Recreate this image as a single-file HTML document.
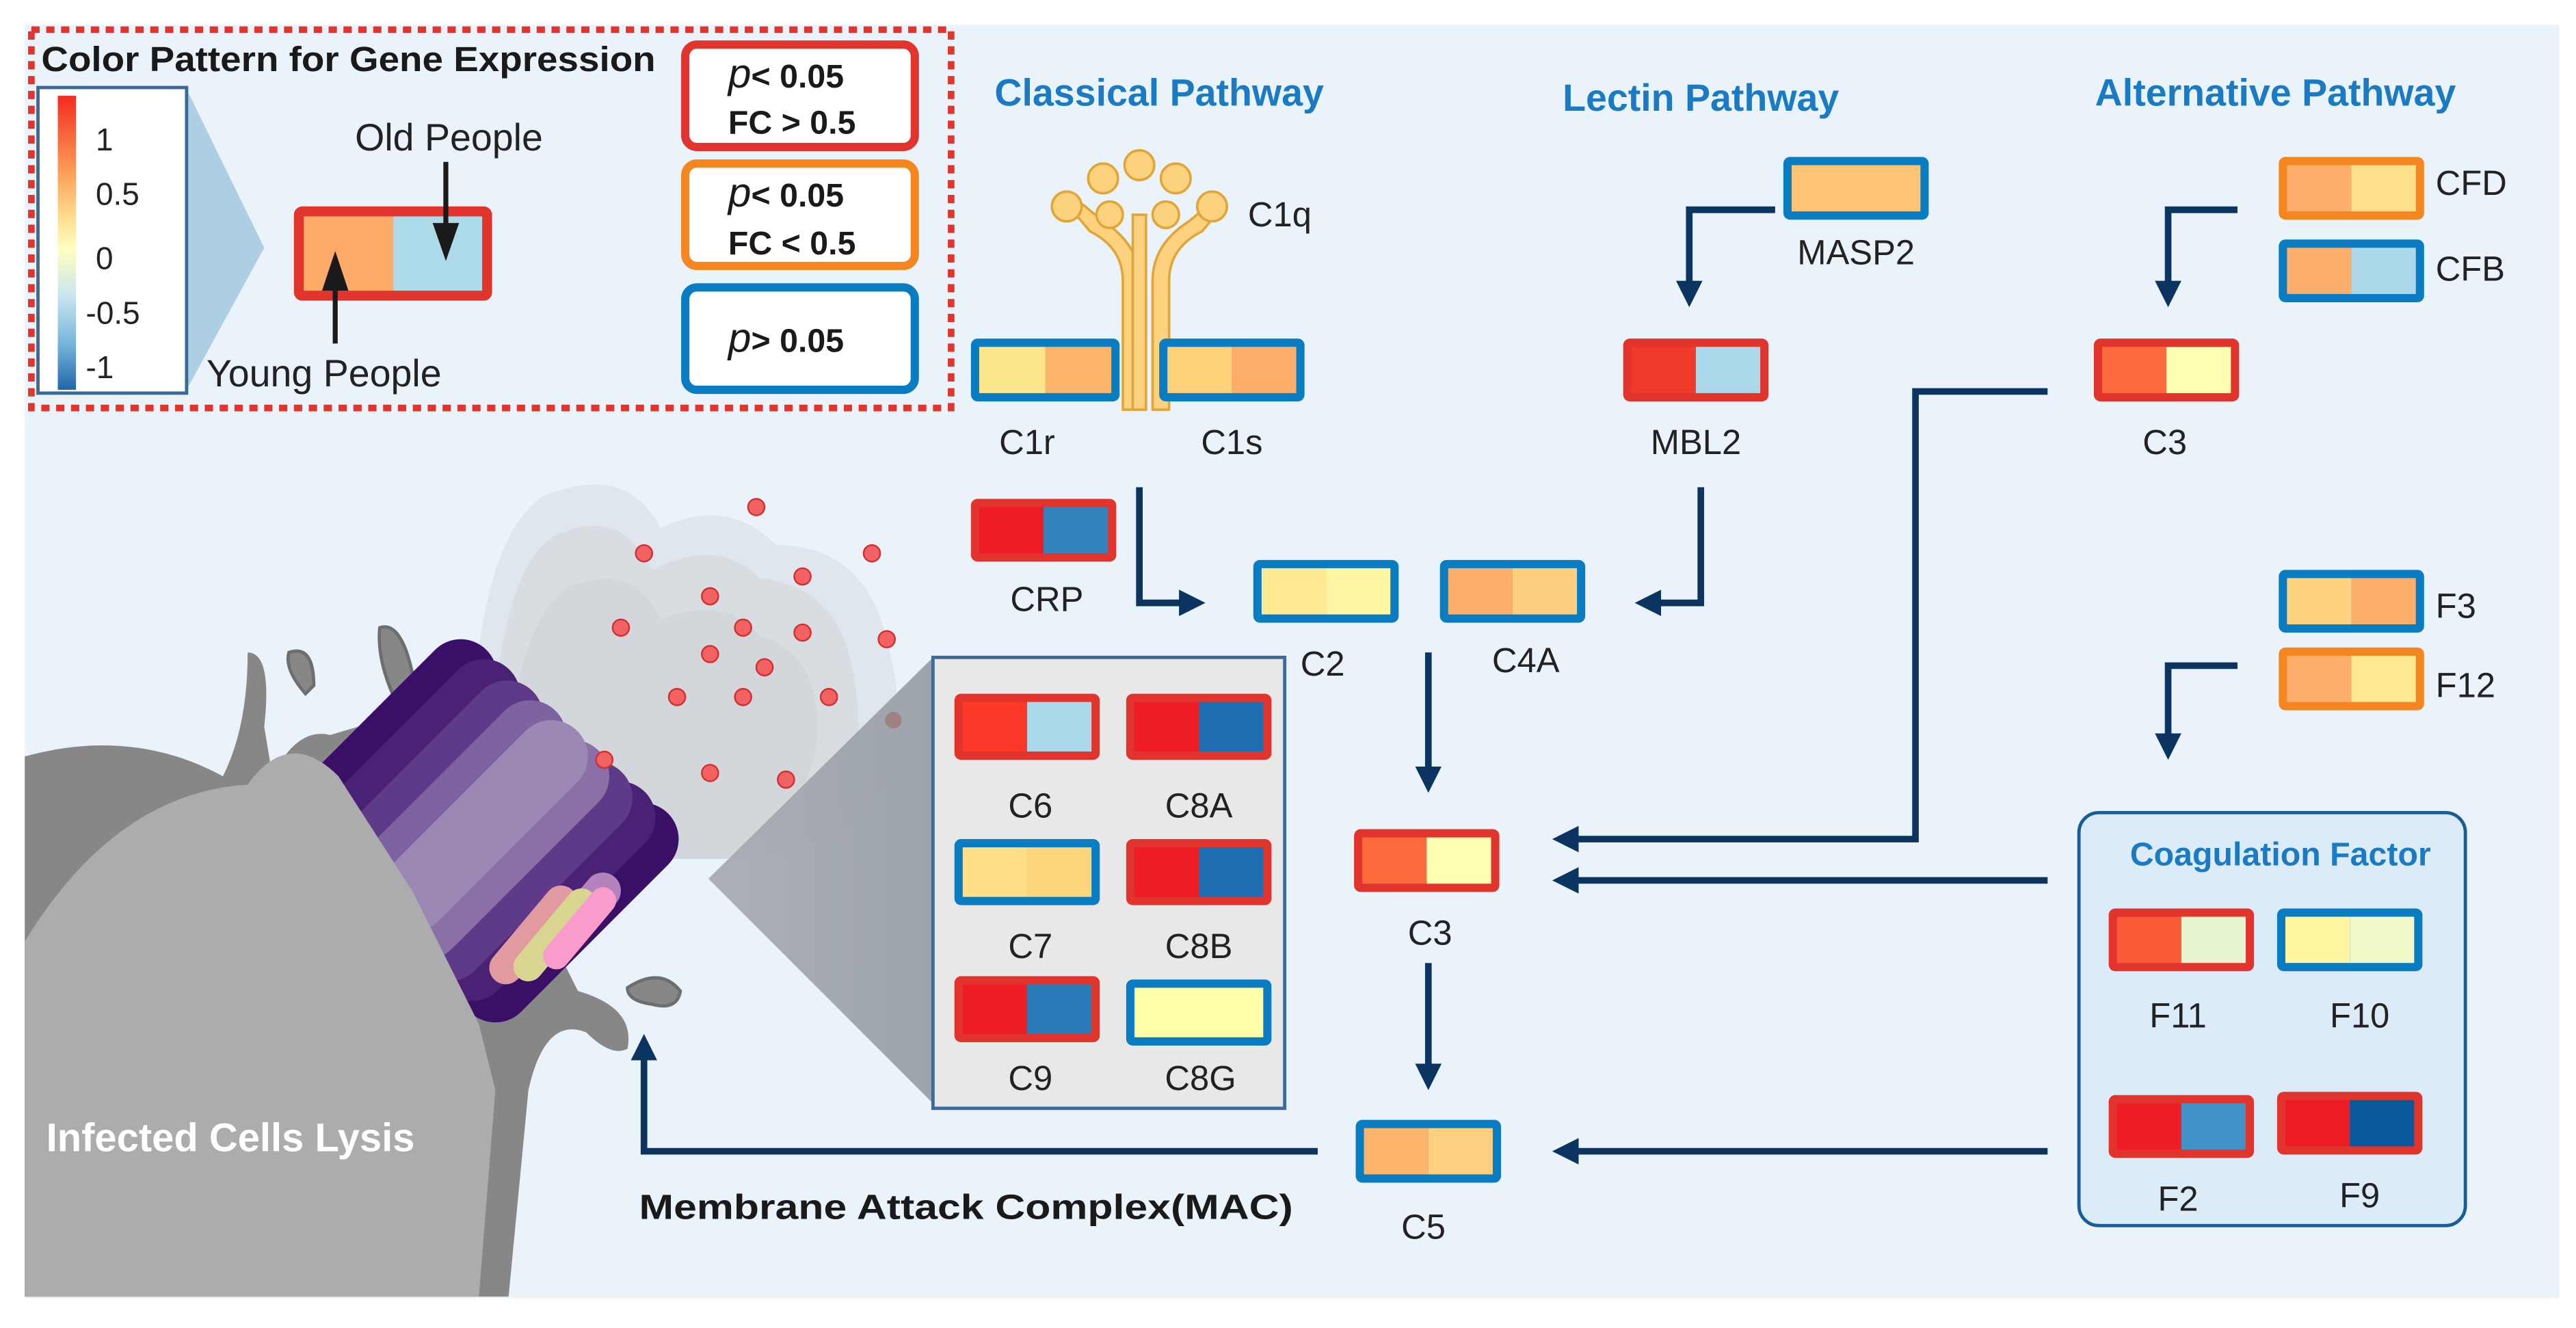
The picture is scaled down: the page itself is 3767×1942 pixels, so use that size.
<!DOCTYPE html>
<html><head><meta charset="utf-8"><style>
html,body{margin:0;padding:0;background:#fff}
svg{display:block}
text{font-family:"Liberation Sans",sans-serif}
.l{font-size:21px;fill:#222;text-anchor:middle}
.t{font-size:23px;font-weight:bold;fill:#1a7bc4;text-anchor:middle}
</style></head><body>
<svg width="3767" height="1942" viewBox="0 0 1560 804" preserveAspectRatio="none" xmlns="http://www.w3.org/2000/svg">
<defs>
<linearGradient id="cb" x1="0" y1="0" x2="0" y2="1">
<stop offset="0" stop-color="#f52a1f"/><stop offset="0.25" stop-color="#fd9a55"/><stop offset="0.4" stop-color="#fdd88a"/><stop offset="0.52" stop-color="#ffffbf"/><stop offset="0.68" stop-color="#c9e6f0"/><stop offset="0.85" stop-color="#72b3d8"/><stop offset="1" stop-color="#2166ac"/>
</linearGradient>
<linearGradient id="gt" x1="0" y1="0" x2="1" y2="0"><stop offset="0" stop-color="#a9adb3"/><stop offset="1" stop-color="#9aa0a8"/></linearGradient>
<marker id="ah" markerWidth="4" markerHeight="4" refX="2" refY="2" orient="auto" markerUnits="strokeWidth"><path d="M0,0 L4,2 L0,4 Z" fill="#0b3560"/></marker>
</defs>
<rect x="0" y="0" width="1560" height="804" fill="#fff"/>
<rect x="15" y="15" width="1535" height="771" fill="#eaf2fa"/>

<!-- legend -->
<rect x="19" y="18" width="557" height="229" fill="none" stroke="#e0342c" stroke-width="4" stroke-dasharray="5,4"/>
<text x="25" y="43" style="font-size:21px;font-weight:bold;fill:#1a1a1a" textLength="372" lengthAdjust="spacingAndGlyphs">Color Pattern for Gene Expression</text>
<polygon points="113,54 113,236 160,150" fill="#aecfe3"/>
<rect x="23" y="53" width="90" height="185" fill="#fff" stroke="#3c6896" stroke-width="2"/>
<rect x="35" y="58" width="11" height="178" fill="url(#cb)"/>
<g style="font-size:19px;fill:#222">
<text x="58" y="91">1</text><text x="58" y="124">0.5</text><text x="58" y="163">0</text><text x="52" y="196">-0.5</text><text x="52" y="229">-1</text></g>
<rect x="178" y="125" width="120" height="57" rx="5" fill="#e0342c"/>
<rect x="184" y="131" width="54" height="45" fill="#fdaa68"/><rect x="238" y="131" width="54" height="45" fill="#acdae8"/>
<text x="215" y="91" style="font-size:23px;fill:#222">Old People</text>
<text x="125" y="234" style="font-size:23px;fill:#222">Young People</text>
<line x1="270" y1="98" x2="270" y2="140" stroke="#1a1a1a" stroke-width="3"/><polygon points="262,135 278,135 270,158" fill="#1a1a1a"/>
<line x1="203" y1="208" x2="203" y2="170" stroke="#1a1a1a" stroke-width="3"/><polygon points="195,176 211,176 203,152" fill="#1a1a1a"/>
<rect x="415" y="27" width="139" height="62" rx="7" fill="#fff" stroke="#e0342c" stroke-width="5"/>
<rect x="415" y="99" width="139" height="62" rx="7" fill="#fff" stroke="#f5861f" stroke-width="5"/>
<rect x="415" y="174" width="139" height="62" rx="7" fill="#fff" stroke="#0a7cc1" stroke-width="5"/>
<g style="font-size:20px;font-weight:bold;fill:#1a1a1a">
<text x="441" y="53"><tspan style="font-style:italic;font-weight:normal;font-size:25px">p</tspan>&lt; 0.05</text>
<text x="441" y="81">FC &gt; 0.5</text>
<text x="441" y="125"><tspan style="font-style:italic;font-weight:normal;font-size:25px">p</tspan>&lt; 0.05</text>
<text x="441" y="154">FC &lt; 0.5</text>
<text x="441" y="213"><tspan style="font-style:italic;font-weight:normal;font-size:25px">p</tspan>&gt; 0.05</text></g>

<!-- titles -->
<text class="t" x="702" y="64">Classical Pathway</text>
<text class="t" x="1030" y="67">Lectin Pathway</text>
<text class="t" x="1378" y="64">Alternative Pathway</text>

<!-- C1q -->
<g fill="#fcd27e" stroke="#e0a63a" stroke-width="1.5">
<path d="M680,248 L680,170 Q680,150 660,140 L650,128 L656,124 L668,134 Q690,148 690,170 L690,248 Z"/>
<path d="M708,248 L708,170 Q708,150 728,140 L738,128 L732,124 L720,134 Q698,148 698,170 L698,248 Z"/>
<path d="M686,248 L686,130 L694,130 L694,248 Z"/>
<circle cx="646" cy="125" r="9"/><circle cx="668" cy="108" r="9"/><circle cx="690" cy="100" r="9"/><circle cx="712" cy="108" r="9"/><circle cx="734" cy="125" r="9"/>
<circle cx="672" cy="130" r="8"/><circle cx="706" cy="130" r="8"/></g>
<text class="l" x="775" y="137">C1q</text>

<!-- gene boxes -->
<g>
<rect x="588" y="205" width="90" height="38" rx="4" fill="#0a7cc1"/><rect x="593" y="210" width="40" height="28" fill="#fde58c"/><rect x="633" y="210" width="40" height="28" fill="#fdb46b"/>
<rect x="702" y="205" width="88" height="38" rx="4" fill="#0a7cc1"/><rect x="707" y="210" width="39" height="28" fill="#fdd07a"/><rect x="746" y="210" width="39" height="28" fill="#fdae6b"/>
<rect x="588" y="302" width="88" height="38" rx="4" fill="#e0342c"/><rect x="593" y="307" width="39" height="28" fill="#ee1c25"/><rect x="632" y="307" width="39" height="28" fill="#3182bd"/>
<rect x="759" y="339" width="88" height="38" rx="4" fill="#0a7cc1"/><rect x="764" y="344" width="39" height="28" fill="#fee891"/><rect x="803" y="344" width="39" height="28" fill="#fff3a4"/>
<rect x="872" y="339" width="88" height="38" rx="4" fill="#0a7cc1"/><rect x="877" y="344" width="39" height="28" fill="#fdae6b"/><rect x="916" y="344" width="39" height="28" fill="#fdcd7e"/>
<rect x="1080" y="95" width="88" height="38" rx="4" fill="#0a7cc1"/><rect x="1085" y="100" width="78" height="28" fill="#fdc574"/>
<rect x="983" y="205" width="88" height="38" rx="4" fill="#e0342c"/><rect x="988" y="210" width="39" height="28" fill="#f03a2a"/><rect x="1027" y="210" width="39" height="28" fill="#abd9e9"/>
<rect x="1380" y="95" width="88" height="38" rx="4" fill="#f5861f"/><rect x="1385" y="100" width="39" height="28" fill="#fdae6b"/><rect x="1424" y="100" width="39" height="28" fill="#fee08b"/>
<rect x="1380" y="145" width="88" height="38" rx="4" fill="#0a7cc1"/><rect x="1385" y="150" width="39" height="28" fill="#fdae6b"/><rect x="1424" y="150" width="39" height="28" fill="#abd9e9"/>
<rect x="1268" y="205" width="88" height="38" rx="4" fill="#e0342c"/><rect x="1273" y="210" width="39" height="28" fill="#fc6a3e"/><rect x="1312" y="210" width="39" height="28" fill="#ffffb2"/>
<rect x="1380" y="345" width="88" height="38" rx="4" fill="#0a7cc1"/><rect x="1385" y="350" width="39" height="28" fill="#fed27f"/><rect x="1424" y="350" width="39" height="28" fill="#fdae6b"/>
<rect x="1380" y="392" width="88" height="38" rx="4" fill="#f5861f"/><rect x="1385" y="397" width="39" height="28" fill="#fdae6b"/><rect x="1424" y="397" width="39" height="28" fill="#fee890"/>
<rect x="820" y="502" width="88" height="38" rx="4" fill="#e0342c"/><rect x="825" y="507" width="39" height="28" fill="#fc6a3e"/><rect x="864" y="507" width="39" height="28" fill="#ffffb2"/>
<rect x="821" y="678" width="88" height="38" rx="4" fill="#0a7cc1"/><rect x="826" y="683" width="39" height="28" fill="#fdb46b"/><rect x="865" y="683" width="39" height="28" fill="#fdcf7e"/>
</g>
<text class="l" x="622" y="275">C1r</text><text class="l" x="746" y="275">C1s</text>
<text class="l" x="634" y="370">CRP</text>
<text class="l" x="801" y="409">C2</text><text class="l" x="924" y="407">C4A</text>
<text class="l" x="1124" y="160">MASP2</text><text class="l" x="1027" y="275">MBL2</text>
<text x="1475" y="118" style="font-size:21px;fill:#222">CFD</text><text x="1475" y="170" style="font-size:21px;fill:#222">CFB</text>
<text class="l" x="1311" y="275">C3</text>
<text x="1475" y="374" style="font-size:21px;fill:#222">F3</text><text x="1475" y="422" style="font-size:21px;fill:#222">F12</text>
<text class="l" x="866" y="572">C3</text><text class="l" x="862" y="750">C5</text>

<!-- coag -->
<rect x="1259" y="492" width="234" height="250" rx="12" fill="#dcebf8" stroke="#1a5c96" stroke-width="2"/>
<text class="t" x="1381" y="524" style="font-size:20px">Coagulation Factor</text>
<rect x="1277" y="550" width="88" height="38" rx="4" fill="#e0342c"/><rect x="1282" y="555" width="39" height="28" fill="#fc5a36"/><rect x="1321" y="555" width="39" height="28" fill="#e6f5d0"/>
<rect x="1379" y="550" width="88" height="38" rx="4" fill="#0a7cc1"/><rect x="1384" y="555" width="39" height="28" fill="#fff5a0"/><rect x="1423" y="555" width="39" height="28" fill="#f0f8c8"/>
<rect x="1277" y="663" width="88" height="38" rx="4" fill="#e0342c"/><rect x="1282" y="668" width="39" height="28" fill="#ee1c25"/><rect x="1321" y="668" width="39" height="28" fill="#4192c6"/>
<rect x="1379" y="661" width="88" height="38" rx="4" fill="#e0342c"/><rect x="1384" y="666" width="39" height="28" fill="#ee1c25"/><rect x="1423" y="666" width="39" height="28" fill="#08589e"/>
<text class="l" x="1319" y="622">F11</text><text class="l" x="1429" y="622">F10</text>
<text class="l" x="1319" y="733">F2</text><text class="l" x="1429" y="731">F9</text>

<!-- arrows -->
<g fill="none" stroke="#0b3560" stroke-width="4">
<path d="M690,295 L690,365 L722,365" marker-end="url(#ah)"/>
<path d="M1075,127 L1023,127 L1023,178" marker-end="url(#ah)"/>
<path d="M1030,295 L1030,365 L998,365" marker-end="url(#ah)"/>
<path d="M1355,127 L1313,127 L1313,178" marker-end="url(#ah)"/>
<path d="M1240,237 L1160,237 L1160,508 L948,508" marker-end="url(#ah)"/>
<path d="M1355,403 L1313,403 L1313,452" marker-end="url(#ah)"/>
<path d="M1240,533 L948,533" marker-end="url(#ah)"/>
<path d="M1240,697 L948,697" marker-end="url(#ah)"/>
<path d="M865,395 L865,472" marker-end="url(#ah)"/>
<path d="M865,583 L865,652" marker-end="url(#ah)"/>
<path d="M798,697 L390,697 L390,634" marker-end="url(#ah)"/>
</g>
<text x="387" y="738" style="font-size:21px;font-weight:bold;fill:#1a1a1a" textLength="396" lengthAdjust="spacingAndGlyphs">Membrane Attack Complex(MAC)</text>

<!-- smoke (layered cloud) -->
<g fill="#cfd2d5">
<path d="M285,520 Q280,330 330,300 Q380,280 400,320 Q440,300 470,330 Q520,330 535,380 Q550,430 540,470 Q520,510 460,520 Z" opacity="0.35"/>
<path d="M295,520 Q295,350 335,325 Q375,305 395,345 Q435,325 460,350 Q505,355 515,400 Q525,440 515,480 Q495,515 450,520 Z" opacity="0.45"/>
<path d="M305,520 Q305,380 345,355 Q385,340 400,375 Q440,360 460,385 Q495,395 495,440 Q495,490 440,520 Z" opacity="0.55"/>
</g>

<!-- inset -->
<polygon points="429,532 565,398 565,668" fill="url(#gt)" opacity="0.95"/>
<rect x="565" y="398" width="213" height="273" fill="#e8e8e8" stroke="#3d6a9a" stroke-width="2"/>
<rect x="578" y="420" width="88" height="40" rx="4" fill="#e0342c"/><rect x="583" y="425" width="39" height="30" fill="#fd3a2a"/><rect x="622" y="425" width="39" height="30" fill="#abd9e9"/>
<rect x="682" y="420" width="88" height="40" rx="4" fill="#e0342c"/><rect x="687" y="425" width="39" height="30" fill="#ee1c25"/><rect x="726" y="425" width="39" height="30" fill="#1f6db3"/>
<rect x="578" y="508" width="88" height="40" rx="4" fill="#0a7cc1"/><rect x="583" y="513" width="39" height="30" fill="#fede86"/><rect x="622" y="513" width="39" height="30" fill="#fdd57b"/>
<rect x="682" y="508" width="88" height="40" rx="4" fill="#e0342c"/><rect x="687" y="513" width="39" height="30" fill="#ee1c25"/><rect x="726" y="513" width="39" height="30" fill="#1f6db3"/>
<rect x="578" y="591" width="88" height="40" rx="4" fill="#e0342c"/><rect x="583" y="596" width="39" height="30" fill="#ee1c25"/><rect x="622" y="596" width="39" height="30" fill="#2a7ab8"/>
<rect x="682" y="593" width="88" height="40" rx="4" fill="#0a7cc1"/><rect x="687" y="598" width="78" height="30" fill="#ffffab"/>
<text class="l" x="624" y="495">C6</text><text class="l" x="726" y="495">C8A</text>
<text class="l" x="624" y="580">C7</text><text class="l" x="726" y="580">C8B</text>
<text class="l" x="624" y="660">C9</text><text class="l" x="727" y="660">C8G</text>

<!-- cell dark -->
<path d="M15,458 Q80,440 135,470 Q150,440 150,395 Q165,395 160,440 L165,470 Q180,440 200,445 L250,430 L310,460 L330,560 L350,600 Q385,610 380,635 Q370,640 355,625 Q330,615 320,660 L308,785 L15,785 Z" fill="#878787"/>
<path d="M175,395 Q190,390 190,415 L185,420 Q172,405 175,395 Z" fill="#878787" stroke="#6e6e6e" stroke-width="2"/>
<path d="M230,380 Q245,375 252,420 Q248,430 240,425 Q228,400 230,380 Z" fill="#878787" stroke="#6e6e6e" stroke-width="2"/>
<path d="M380,598 Q400,585 412,600 Q410,612 395,608 Q380,606 380,598 Z" fill="#878787" stroke="#6e6e6e" stroke-width="2"/>
<!-- MAC cylinders -->
<g stroke-linecap="round">
<line x1="389" y1="508" x2="300" y2="597" stroke="#3a1066" stroke-width="44"/>
<line x1="375" y1="495" x2="286" y2="584" stroke="#4a2275" stroke-width="44"/>
<line x1="361" y1="483" x2="272" y2="572" stroke="#5e3a88" stroke-width="44"/>
<line x1="279" y1="409" x2="195" y2="493" stroke="#3a1066" stroke-width="44"/>
<line x1="293" y1="421" x2="209" y2="505" stroke="#4a2275" stroke-width="44"/>
<line x1="307" y1="434" x2="223" y2="518" stroke="#5e3a88" stroke-width="44"/>
<line x1="321" y1="446" x2="237" y2="530" stroke="#7d64a0" stroke-width="44"/>
<line x1="347" y1="470" x2="258" y2="559" stroke="#8a70a4" stroke-width="44"/>
<line x1="334" y1="458" x2="250" y2="542" stroke="#9c88b5" stroke-width="44"/>
</g>
<rect x="345" y="525" width="22" height="50" rx="11" fill="#b482bd" transform="rotate(40 356 550)"/>
<rect x="313" y="530" width="20" height="72" rx="10" fill="#e09aa0" transform="rotate(40 323 566)"/>
<rect x="327" y="532" width="18" height="68" rx="9" fill="#d8d590" transform="rotate(40 336 566)"/>
<rect x="343" y="532" width="16" height="60" rx="8" fill="#f79ccb" transform="rotate(40 351 562)"/>
<!-- cell light -->
<path d="M15,570 Q70,480 150,475 Q175,440 205,470 L250,540 L290,620 L300,660 L290,785 L15,785 Z" fill="#acacac"/>
<g fill="#f26262" stroke="#d03030" stroke-width="1">
<circle cx="458" cy="307" r="5"/><circle cx="390" cy="335" r="5"/><circle cx="528" cy="335" r="5"/><circle cx="486" cy="349" r="5"/><circle cx="430" cy="361" r="5"/><circle cx="376" cy="380" r="5"/><circle cx="450" cy="380" r="5"/><circle cx="486" cy="383" r="5"/><circle cx="537" cy="387" r="5"/><circle cx="430" cy="396" r="5"/><circle cx="463" cy="404" r="5"/><circle cx="410" cy="422" r="5"/><circle cx="450" cy="422" r="5"/><circle cx="502" cy="422" r="5"/><circle cx="366" cy="460" r="5"/><circle cx="430" cy="468" r="5"/><circle cx="476" cy="472" r="5"/></g>
<circle cx="541" cy="436" r="5" fill="#a07070" opacity="0.7"/>
<text x="28" y="697" style="font-size:24px;font-weight:bold;fill:#fff">Infected Cells Lysis</text>
</svg>
</body></html>
